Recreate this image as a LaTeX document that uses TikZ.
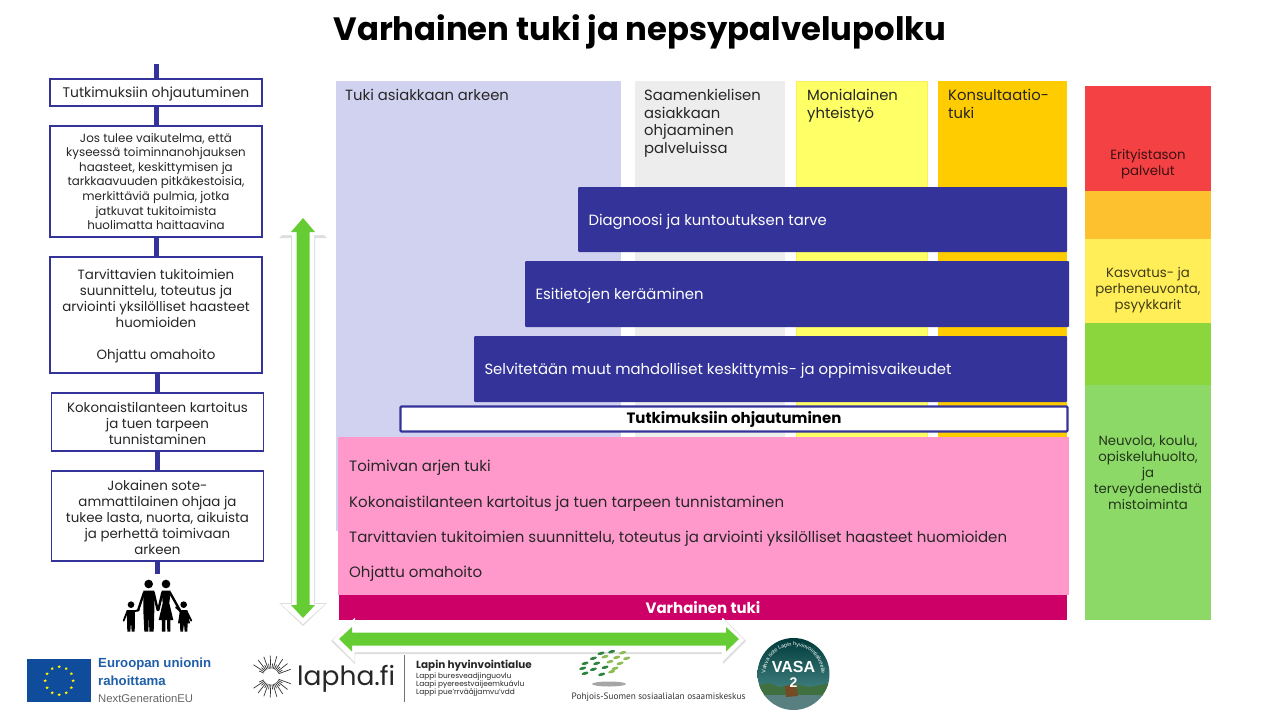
\documentclass[tikz,border=0pt]{standalone}
\usepackage{fontspec}
\setmainfont{Poppins}
\newfontfamily\arialfont{Liberation Sans}
\newfontfamily\ptfont{PT Sans}
\usetikzlibrary{shapes.geometric,decorations.text}
\definecolor{barblue}{HTML}{333399}
\definecolor{lavcol}{HTML}{D1D2F0}
\definecolor{greycol}{HTML}{EDEDED}
\definecolor{yelcol}{HTML}{FFFF66}
\definecolor{orcol}{HTML}{FFCC00}
\definecolor{pinkbar}{HTML}{FF99CC}
\definecolor{magbar}{HTML}{CC0066}
\definecolor{arrgreen}{HTML}{66CC33}
\definecolor{lvlred}{HTML}{F44144}
\definecolor{lvlor}{HTML}{FDC02F}
\definecolor{lvlyel}{HTML}{FFEE58}
\definecolor{lvlgrn}{HTML}{8BD63D}
\definecolor{lvllight}{HTML}{8CD967}
\definecolor{eublue}{HTML}{0F4C9C}
\definecolor{lognav}{HTML}{1F5FA8}
\definecolor{leafdark}{HTML}{2E8540}
\definecolor{leaflight}{HTML}{8DBB54}
\tikzset{
  stepbox/.style={draw=barblue, line width=1.8pt, fill=white, minimum width=212pt, inner sep=0pt},
  steptext/.style={inner sep=0pt, align=center, yshift=-1pt, text=black!85, font=\fontsize{13.4}{16}\selectfont},
  spine/.style={draw=barblue, line width=5pt},
  colbg/.style={inner sep=0pt, anchor=north west},
  coltext/.style={anchor=north west, inner sep=0pt, xshift=9pt, yshift=-8pt, align=left, text=black!85, font=\fontsize{14.8}{17.7}\selectfont},
  bluebar/.style={fill=barblue, rounded corners=1pt, inner sep=0pt},
  bartext/.style={anchor=west, inner sep=0pt, xshift=10.5pt, yshift=-2pt, text=white, font=\fontsize{14.85}{17}\selectfont},
  pinktext/.style={anchor=west, inner sep=0pt, text=black!85, font=\fontsize{15}{17}\selectfont},
  lvl/.style={inner sep=0pt, minimum width=126pt},
  lvltext/.style={align=center, inner sep=0pt, text=black, text opacity=0.75, font=\fontsize{13.3}{16}\selectfont},
  arrshade/.style={fill=black!13},
  whitearrow/.style={fill=white},
  greenarrow/.style={fill=arrgreen},
  person/.style={draw=black, line cap=round, line join=round},
}
\begin{document}
\begin{tikzpicture}[x=1pt,y=-1pt]
  \useasboundingbox (0,0) rectangle (1280,720);
  \node[inner sep=0pt, font=\bfseries\fontsize{32.3}{36}\selectfont] (title) at (640,32) {Varhainen tuki ja nepsypalvelupolku};

  % left column
  \coordinate (spinetop) at (156.5,64);
  \coordinate (spineend) at (157.5,574);
  \node[stepbox, minimum height=27pt] (ohjbox) at (156,92.5) {};
  \node[stepbox, minimum height=111pt] (josbox) at (156,181.5) {};
  \node[stepbox, minimum height=116pt] (tarbox) at (156,315) {};
  \node[stepbox, minimum height=58pt] (kokbox) at (157.5,422) {};
  \node[stepbox, minimum height=90pt] (jokbox) at (157.5,516) {};
  \node[steptext, yshift=-1pt, font=\fontsize{13.9}{16}\selectfont] (ohjtxt) at (ohjbox) {Tutkimuksiin ohjautuminen};
  \node[steptext, yshift=1pt, font=\fontsize{11.9}{14.6}\selectfont] (jostxt) at (josbox) {Jos tulee vaikutelma, että\\kyseessä toiminnanohjauksen\\haasteet, keskittymisen ja\\tarkkaavuuden pitkäkestoisia,\\merkittäviä pulmia, jotka\\jatkuvat tukitoimista\\huolimatta haittaavina};
  \node[steptext] (tartxt) at (tarbox) {Tarvittavien tukitoimien\\suunnittelu, toteutus ja\\arviointi yksilölliset haasteet\\huomioiden\\[16pt]Ohjattu omahoito};
  \node[steptext] (koktxt) at (kokbox) {Kokonaistilanteen kartoitus\\ja tuen tarpeen\\tunnistaminen};
  \node[steptext] (joktxt) at (jokbox) {Jokainen sote-\\ammattilainen ohjaa ja\\tukee lasta, nuorta, aikuista\\ja perhettä toimivaan\\arkeen};
  \draw[spine] (spinetop) -- (ohjbox.north -| spinetop);
  \draw[spine] (ohjbox.south) -- (josbox.north);
  \draw[spine] (josbox.south) -- (tarbox.north);
  \draw[spine] (kokbox.north) -- (kokbox.north |- tarbox.south);
  \draw[spine] (kokbox.south) -- (jokbox.north);
  \draw[spine] (jokbox.south) -- (spineend);

  % family
  \begin{scope}[shift={(110,570)},x=0.3333pt,y=-0.3333pt]
    \fill (116,42) circle (13); \fill (168,42) circle (13);
    \fill (63,104) circle (10); \fill (221,104) circle (10);
    \fill (100,62) -- (133,62) -- (133,122) -- (131,185) -- (118,185) -- (117,130) -- (115,185) -- (103,185) -- (100,122) -- cycle;
    \fill (155,62) -- (182,62) -- (178,100) -- (190,150) -- (181,150) -- (181,185) -- (172,185) -- (171,150) -- (166,150) -- (166,185) -- (156,185) -- (156,150) -- (146,150) -- (158,100) -- cycle;
    \draw[person, line width=2.4pt] (102,68) -- (84,122);
    \draw[person, line width=2.4pt] (131,68) -- (143,120);
    \draw[person, line width=2.4pt] (157,68) -- (145,120);
    \draw[person, line width=2.4pt] (180,68) -- (212,125);
    \fill (50,120) -- (75,120) -- (75,150) -- (74,185) -- (65,185) -- (63,155) -- (61,185) -- (52,185) -- (51,150) -- cycle;
    \draw[person, line width=1.8pt] (52,124) -- (41,152);
    \draw[person, line width=1.8pt] (73,124) -- (86,120);
    \fill (210,120) -- (232,120) -- (240,160) -- (233,160) -- (232,185) -- (224,185) -- (222,160) -- (219,185) -- (211,185) -- (210,160) -- (204,160) -- cycle;
    \draw[person, line width=1.8pt] (230,124) -- (244,152);
    \draw[person, line width=1.8pt] (212,124) -- (198,112);
  \end{scope}

  % big arrows
  \path[arrshade] (303,216) -- (327,238) -- (315,238) -- (315,603) -- (327,603) -- (303,626) -- (279,603) -- (291,603) -- (291,238) -- (279,238) -- cycle;
  \path[whitearrow] (303,214) -- (325,235) -- (314,235) -- (314,604) -- (325,604) -- (303,624) -- (281,604) -- (292,604) -- (292,235) -- (281,235) -- cycle;
  \path[greenarrow] (303,218) -- (315,232) -- (309.5,232) -- (309.5,605) -- (315,605) -- (303,618) -- (291,605) -- (296.5,605) -- (296.5,232) -- (291,232) -- cycle;

  % columns
  \node[colbg, fill=lavcol, minimum width=285pt, minimum height=450pt] (tukicol) at (336,81) {};
  \node[colbg, fill=greycol, minimum width=150pt, minimum height=356pt] (saamcol) at (635,81) {};
  \node[colbg, fill=yelcol, draw=lvlyel, line width=0.5pt, minimum width=131pt, minimum height=356pt] (monicol) at (796,81) {};
  \node[colbg, fill=orcol, minimum width=129pt, minimum height=356pt] (konscol) at (938,81) {};
  \node[coltext] (tukitxt) at (tukicol.north west) {Tuki asiakkaan arkeen};
  \node[coltext] (saamtxt) at (saamcol.north west) {Saamenkielisen\\asiakkaan\\ohjaaminen\\palveluissa};
  \node[coltext, xshift=2pt] (monitxt) at (monicol.north west) {Monialainen\\yhteistyö};
  \node[coltext, xshift=1pt] (konstxt) at (konscol.north west) {Konsultaatio-\\tuki};

  % bars
  \node[bluebar, minimum width=489pt, minimum height=65pt] (diagbar) at (822.5,219.5) {};
  \node[bluebar, minimum width=544pt, minimum height=66pt] (esibar) at (797,294) {};
  \node[bluebar, minimum width=593pt, minimum height=66pt] (selvbar) at (770.5,369) {};
  \node[bartext] (diagtxt) at (diagbar.west) {Diagnoosi ja kuntoutuksen tarve};
  \node[bartext] (esitxt) at (esibar.west) {Esitietojen kerääminen};
  \node[bartext] (selvtxt) at (selvbar.west) {Selvitetään muut mahdolliset keskittymis- ja oppimisvaikeudet};
  \node[draw=barblue, line width=2.4pt, fill=white, rounded corners=1pt, minimum width=667pt, minimum height=25pt, inner sep=0pt, font=\bfseries\fontsize{15}{17}\selectfont] (tutkbar) at (734,419) {\raisebox{-1.5pt}{Tutkimuksiin ohjautuminen}};
  \node[colbg, fill=pinkbar, minimum width=731pt, minimum height=158pt] (pinkbox) at (338,437) {};
  \node[pinktext] (toimrow) at (349,468) {Toimivan arjen tuki};
  \node[pinktext] (kokrow) at (349,504) {Kokonaistilanteen kartoitus ja tuen tarpeen tunnistaminen};
  \node[pinktext] (tarrow) at (349,539) {Tarvittavien tukitoimien suunnittelu, toteutus ja arviointi yksilölliset haasteet huomioiden};
  \node[pinktext] (omarow) at (349,574) {Ohjattu omahoito};
  \node[colbg, fill=magbar, minimum width=728pt, minimum height=25pt] (varhbar) at (339,595) {};
  \node[inner sep=0pt, text=white, font=\bfseries\fontsize{15}{17}\selectfont] (varhtxt) at (703,608) {Varhainen tuki};

  % levels
  \node[lvl, colbg, fill=lvlred, minimum height=105pt] (lvlA) at (1085,86) {};
  \node[lvl, colbg, fill=lvlor, minimum height=48pt] (lvlB) at (1085,191) {};
  \node[lvl, colbg, fill=lvlyel, minimum height=84pt] (lvlC) at (1085,239) {};
  \node[lvl, colbg, fill=lvlgrn, minimum height=62pt] (lvlD) at (1085,323) {};
  \node[lvl, colbg, fill=lvllight, minimum height=235pt] (lvlE) at (1085,385) {};
  \node[lvltext] (lvlAtxt) at (1148,164) {Erityistason\\palvelut};
  \node[lvltext] (lvlCtxt) at (1148,290) {Kasvatus- ja\\perheneuvonta,\\psyykkarit};
  \node[lvltext] (lvlEtxt) at (1148,472.5) {Neuvola, koulu,\\opiskeluhuolto,\\ja\\terveydenedistä\\mistoiminta};

  % horizontal arrow
  \path[arrshade] (331,641) -- (355,618) -- (355,624) -- (723,624) -- (723,618) -- (746,641) -- (723,664) -- (723,654) -- (355,654) -- (355,664) -- cycle;
  \path[whitearrow] (333,640) -- (354.5,618) -- (354.5,623) -- (722,623) -- (722,618) -- (744,640) -- (722,662) -- (722,652) -- (354.5,652) -- (354.5,662) -- cycle;
  \path[greenarrow] (339,639) -- (352,627) -- (352,632.5) -- (726,632.5) -- (726,627) -- (739,639) -- (726,651.5) -- (726,645.5) -- (352,645.5) -- (352,651.5) -- cycle;

  % EU logo
  \node[colbg, fill=eublue, minimum width=64pt, minimum height=43pt] (euflag) at (27,659) {};
  \foreach \i in {0,...,11}
    \node[star, star points=5, star point ratio=2.4, fill=yellow, inner sep=0pt, minimum size=3.6pt] (eustar\i) at ([shift={(\i*30:14)}]euflag.center) {};
  \node[anchor=west, inner sep=0pt, text=lognav, font=\arialfont\bfseries\fontsize{13.2}{16}\selectfont] (eutxtA) at (98,664.5) {Euroopan unionin};
  \node[anchor=west, inner sep=0pt, text=lognav, font=\arialfont\bfseries\fontsize{13.2}{16}\selectfont] (eutxtB) at (98,680.5) {rahoittama};
  \node[anchor=west, inner sep=0pt, text=black!60, font=\arialfont\fontsize{11.3}{14}\selectfont] (eutxtC) at (98,698) {NextGenerationEU};

  % lapha logo
  \foreach \a [count=\i] in {20,29,...,160} {
    \pgfmathsetmacro{\rayend}{13+8*mod(\i,2)}
    \draw[line width=0.7pt, black!80] (271,676.5) ++(\a:8) -- ++(\a:\rayend-8);
    \draw[line width=0.7pt, black!80] (271,676.5) ++(-\a:8) -- ++(-\a:\rayend-8);
  }
  \node[anchor=west, inner sep=0pt, text=black!85, font=\fontsize{26.5}{30}\selectfont] (laphatxt) at (297,679) {lapha.fi};
  \draw[black!55, line width=0.7pt] (404,655) -- (404,702);
  \node[anchor=west, inner sep=0pt, text=black!85, font=\bfseries\fontsize{10.4}{12}\selectfont] (lappiA) at (416,665.5) {Lapin hyvinvointialue};
  \node[anchor=north west, inner sep=0pt, align=left, text=black!85, font=\fontsize{7.4}{8}\selectfont] (lappiB) at (416,673) {Lappi buresveadjinguovlu\\Laapi pyereestvaijeemkuávlu\\Lappi pue'rrväåjjamvu'vdd};

  % osaamiskeskus logo
  \fill[black!35] (609,684) ellipse (17 and 2.5);
  \foreach \dx/\dy/\leaf in {93/70/leafdark,125/65/leafdark,158/68/leaflight,70/85/leafdark,105/80/leaflight,140/82/leaflight,170/85/leaflight,45/100/leafdark,80/100/leafdark,120/95/leaflight,150/100/leaflight,38/115/leafdark,70/118/leafdark,105/112/leafdark,135/115/leaflight,45/130/leafdark,95/133/leafdark,125/125/leaflight}
    \fill[\leaf, shift={(570+\dx/3,630+\dy/3)}, rotate=15] (0,0) ellipse (3.6 and 1.5);
  \node[anchor=west, inner sep=0pt, text=black!80, font=\ptfont\fontsize{9.25}{12}\selectfont] (osktxt) at (571.5,697.5) {Pohjois-Suomen sosiaalialan osaamiskeskus};

  % badge
  \begin{scope}
    \clip (793.5,674) circle (36);
    \shade[top color=teal!45!black, bottom color=teal!50!gray] (757,638) rectangle (830,690);
    \fill[green!25!black!75] (757,686) -- (768,683) -- (780,687) -- (795,684) -- (810,687) -- (830,683) -- (830,696) -- (757,696) -- cycle;
    \fill[teal!30!gray] (757,695) rectangle (830,710);
    \fill[brown!60!black] (785,686) -- (796,684) -- (798,696) -- (786,697) -- cycle;
  \end{scope}
  \path[decorate, decoration={text along path, text align=center, text={|\color{white}\arialfont\fontsize{5.4}{6}\selectfont|Vahva sote Lapin hyvinvointialueelle}}] (793.5,674) ++(160:28) arc[start angle=160, end angle=380, radius=28];
  \node[inner sep=0pt, text=white, font=\arialfont\bfseries\fontsize{16}{18}\selectfont] (vasatxt) at (793.5,667) {VASA};
  \node[inner sep=0pt, text=white, font=\arialfont\bfseries\fontsize{14}{16}\selectfont] (vasanum) at (793.5,682.5) {2};
\end{tikzpicture}
\end{document}
